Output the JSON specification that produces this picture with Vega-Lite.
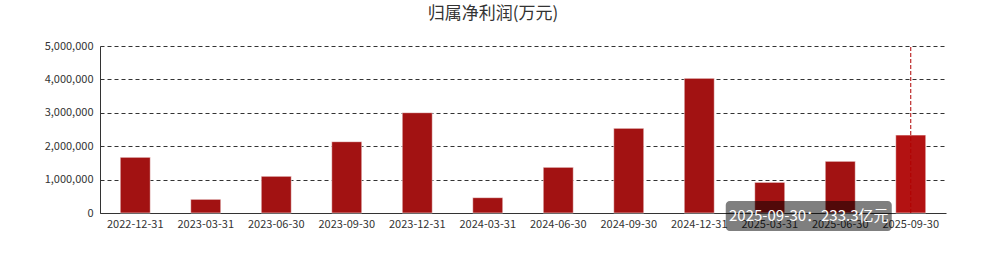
{
  "$schema": "https://vega.github.io/schema/vega-lite/v6.json",
  "width": 846,
  "height": 167,
  "autosize": "none",
  "padding": {"left": 100, "top": 46, "right": 39, "bottom": 44},
  "background": "white",
  "config": {
    "view": {"stroke": null},
    "font": "Noto Sans CJK SC",
    "axisX": {
      "title": null,
      "labelAngle": 0,
      "ticks": false,
      "domainColor": "#333333",
      "labelColor": "#333333",
      "labelFontSize": 11,
      "labelFont": "Noto Sans CJK SC",
      "labelPadding": 5,
      "grid": false
    },
    "axisY": {
      "title": null,
      "ticks": false,
      "domain": true,
      "domainColor": "#333333",
      "grid": true,
      "gridColor": "#333333",
      "gridDash": [4, 3],
      "gridOpacity": 1,
      "labelColor": "#333333",
      "labelFontSize": 11,
      "labelFont": "Noto Sans CJK SC",
      "labelPadding": 7,
      "labelExpr": "format(datum.value, ',d')"
    }
  },
  "title": {
    "text": "归属净利润(万元)",
    "fontSize": 17,
    "font": "Noto Sans CJK SC",
    "fontWeight": "normal",
    "color": "#333333",
    "anchor": "middle",
    "dx": -30,
    "offset": 17
  },
  "datasets": {
    "main": [
      {"date": "2022-12-31", "value": 1667000},
      {"date": "2023-03-31", "value": 410000},
      {"date": "2023-06-30", "value": 1099000},
      {"date": "2023-09-30", "value": 2135000},
      {"date": "2023-12-31", "value": 3003000},
      {"date": "2024-03-31", "value": 459000},
      {"date": "2024-06-30", "value": 1367000},
      {"date": "2024-09-30", "value": 2535000},
      {"date": "2024-12-31", "value": 4032000},
      {"date": "2025-03-31", "value": 918000},
      {"date": "2025-06-30", "value": 1547000},
      {"date": "2025-09-30", "value": 2333000}
    ],
    "tip": [
      {"date": "2025-09-30", "label": "2025-09-30：233.3亿元"}
    ]
  },
  "layer": [
    {
      "data": {"name": "main"},
      "mark": {"type": "bar", "stroke": "#ffffff", "strokeOpacity": 0.55, "strokeWidth": 1},
      "encoding": {
        "x": {
          "field": "date",
          "type": "ordinal",
          "scale": {"paddingInner": 0.574, "paddingOuter": 0.287},
          "axis": {"title": null}
        },
        "y": {
          "field": "value",
          "type": "quantitative",
          "scale": {"domain": [0, 5000000], "nice": false},
          "axis": {"title": null, "values": [0, 1000000, 2000000, 3000000, 4000000, 5000000]}
        },
        "color": {
          "condition": {"test": "datum.date === '2025-09-30'", "value": "#B31212"},
          "value": "#A21212"
        }
      }
    },
    {
      "data": {"name": "tip"},
      "mark": {"type": "rule", "color": "#B00000", "strokeDash": [4, 2], "strokeWidth": 1},
      "encoding": {
        "x": {"field": "date", "type": "ordinal", "axis": {"title": null}},
        "y": {"datum": 0, "type": "quantitative", "axis": {"title": null, "values": [0, 1000000, 2000000, 3000000, 4000000, 5000000]}},
        "y2": {"datum": 5000000}
      }
    },
    {
      "data": {"name": "tip"},
      "mark": {"type": "bar", "width": 166, "xOffset": -102, "cornerRadius": 4, "color": "#000000", "opacity": 0.5},
      "encoding": {
        "x": {"field": "date", "type": "ordinal", "axis": {"title": null}},
        "y": {"datum": 360000, "type": "quantitative", "axis": {"title": null, "values": [0, 1000000, 2000000, 3000000, 4000000, 5000000]}},
        "y2": {"datum": -540000}
      }
    },
    {
      "data": {"name": "tip"},
      "mark": {"type": "text", "dx": -102, "color": "#ffffff", "fontSize": 15, "font": "Noto Sans CJK SC", "baseline": "middle", "align": "center"},
      "encoding": {
        "x": {"field": "date", "type": "ordinal", "axis": {"title": null}},
        "y": {"datum": -90000, "type": "quantitative", "axis": {"title": null, "values": [0, 1000000, 2000000, 3000000, 4000000, 5000000]}},
        "text": {"field": "label"}
      }
    }
  ]
}
